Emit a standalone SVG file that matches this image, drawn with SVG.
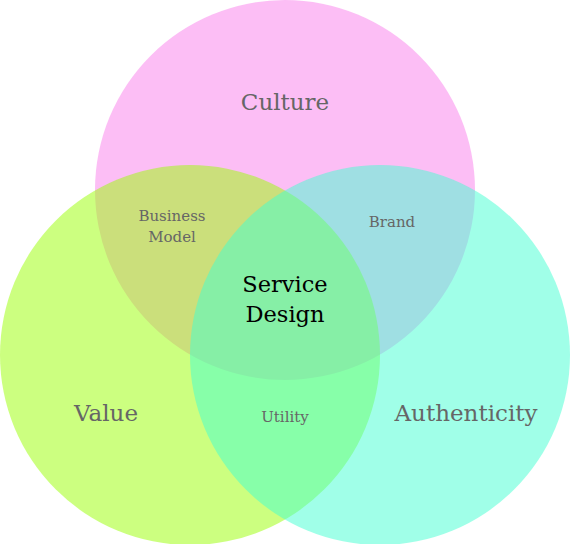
<svg xmlns="http://www.w3.org/2000/svg" width="570" height="544" viewBox="0 0 570 544">
<style>
.c{opacity:0.5}
text{font-family:"DejaVu Serif","Liberation Serif",serif;text-anchor:middle}
.big{font-size:23px;fill:#666}
.small{font-size:15px;fill:#666}
.core{font-size:22.5px;fill:#000}
</style>
<rect width="570" height="544" fill="#fff"/>
<g id="culture"><circle class="c" cx="285" cy="190" r="190" fill="#f97deb"/><text class="big" x="285" y="110">Culture</text></g>
<g id="value"><circle class="c" cx="190" cy="355" r="190" fill="#99ff01"/><text class="big" x="106" y="421">Value</text></g>
<g id="authenticity"><circle class="c" cx="380" cy="355" r="190" fill="#41ffd1"/><text class="big" x="466" y="421">Authenticity</text></g>
<g id="business-model"><text class="small" x="172" y="221">Business</text><text class="small" x="172" y="242">Model</text></g>
<g id="brand"><text class="small" x="392" y="227">Brand</text></g>
<g id="utility"><text class="small" x="285" y="422">Utility</text></g>
<g id="service-design"><text class="core" x="285" y="292">Service</text><text class="core" x="285" y="322">Design</text></g>
<g id="connectors"/>
</svg>
